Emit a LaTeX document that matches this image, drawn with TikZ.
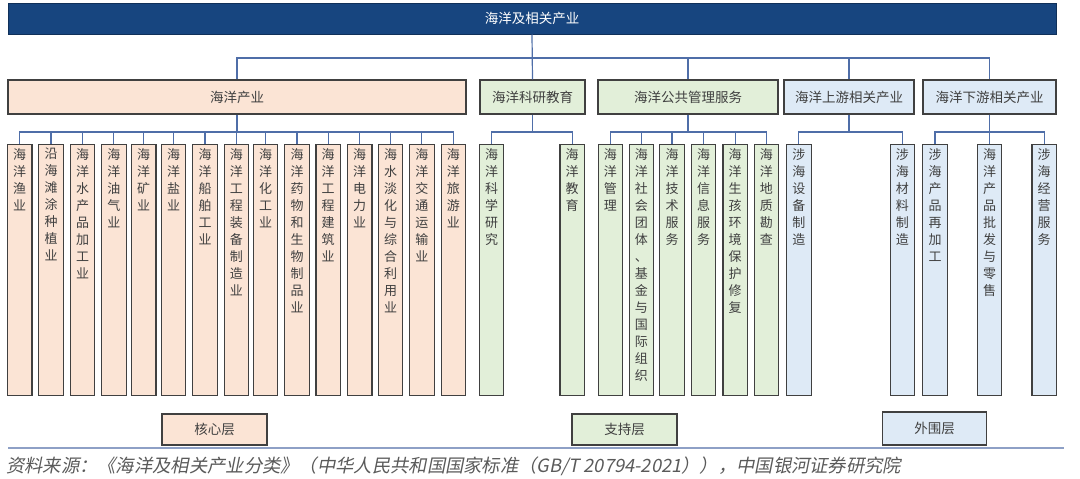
\documentclass[tikz,border=0pt]{standalone}
\usepackage{fontspec}
\setmainfont{Noto Sans CJK SC}
\newfontfamily\cjkit[FakeSlant=0.2]{Noto Sans CJK SC}
\usetikzlibrary{calc}

\definecolor{topfill}{HTML}{17457F}
\definecolor{corefill}{HTML}{FBE4D5}
\definecolor{suppfill}{HTML}{E2EFD9}
\definecolor{outerfill}{HTML}{DEEAF6}
\definecolor{boxline}{HTML}{404040}
\definecolor{linkblue}{HTML}{4F6EA8}
\definecolor{txtgray}{HTML}{404040}
\definecolor{sepblue}{HTML}{8EA0C6}
\definecolor{srcgray}{HTML}{5A5A5A}

% stack the characters of #1 one above the other
\makeatletter
\newcommand\vtext[1]{\edef\vtmp{#1}\def\vrun{\@tfor\ch:=}%
  \vbox{\baselineskip=17pt\expandafter\vrun\vtmp\do{\hbox{\ch}}}}
\makeatother

\begin{document}
\begin{tikzpicture}[x=1pt, y=-1pt,
    box/.style={draw=boxline, line width=1.1pt, inner sep=0pt, text=txtgray,
      font=\fontsize{13.5}{16}\selectfont},
    core/.style={box, fill=corefill},
    supp/.style={box, fill=suppfill},
    outer/.style={box, fill=outerfill},
    leaf/.style={minimum width=24.5pt, minimum height=251pt, anchor=north,
      label={[anchor=north, inner sep=0pt, yshift=-4pt, text=txtgray,
        font=\fontsize{13}{17}\selectfont]north:{\vtext{#1}}}},
    link/.style={draw=linkblue, line width=1.2pt}]

  \useasboundingbox (0,0) rectangle (1080,479);

  % top level
  \node[draw=topfill!70!black, fill=topfill, text=white, line width=1pt,
    minimum width=1048pt, minimum height=31pt, inner sep=0pt,
    font=\fontsize{13.5}{16}\selectfont] (root) at (532,18.5) {海洋及相关产业};

  % second level
  \node[core, minimum width=458pt, minimum height=34pt] (hy) at (237,97) {海洋产业};
  \node[supp, minimum width=105pt, minimum height=34pt] (ke) at (532.5,97) {海洋科研教育};
  \node[supp, minimum width=180pt, minimum height=34pt] (gg) at (688,97) {海洋公共管理服务};
  \node[outer, minimum width=130pt, minimum height=34pt] (sy) at (849,97) {海洋上游相关产业};
  \node[outer, minimum width=133pt, minimum height=34pt] (xy) at (989.5,97) {海洋下游相关产业};

  \coordinate (b1) at (0,58);  % first bus
  \coordinate (b2) at (0,132); % second bus

  \draw[link] (root.south) -- (ke.north);
  \draw[link] (hy.north) -- (hy.north |- b1) -- (xy.north |- b1) -- (xy.north);
  \draw[link] (gg.north) -- (gg.north |- b1);
  \draw[link] (sy.north) -- (sy.north |- b1);

  % third level
  \foreach \x/\t [count=\i] in {19.7/海洋渔业, 51/沿海滩涂种植业, 82.5/海洋水产品加工业,
      113.8/海洋油气业, 143.7/海洋矿业, 173.5/海洋盐业, 205/海洋船舶工业,
      236.3/海洋工程装备制造业, 265.5/海洋化工业, 297/海洋药物和生物制品业,
      328.2/海洋工程建筑业, 359.7/海洋电力业, 390.5/海水淡化与综合利用业,
      421.8/海洋交通运输业, 453.3/海洋旅游业}
    \node[core, leaf=\t] (core\i) at (\x,144) {};

  \foreach \x/\t [count=\i] in {491.5/海洋科学研究, 572.2/海洋教育}
    \node[supp, leaf=\t] (ke\i) at (\x,144) {};

  \foreach \x/\t [count=\i] in {610.3/海洋管理, 641.3/海洋社会团体、基金与国际组织,
      672/海洋技术服务, 703.5/海洋信息服务, 735.2/海洋生孩环境保护修复, 766.3/海洋地质勘查}
    \node[supp, leaf=\t] (gg\i) at (\x,144) {};

  \foreach \x/\t [count=\i] in {798.8/涉海设备制造, 902.3/涉海材料制造}
    \node[outer, leaf=\t] (sy\i) at (\x,144) {};

  \foreach \x/\t [count=\i] in {935/涉海产品再加工, 989.5/海洋产品批发与零售, 1044.2/涉海经营服务}
    \node[outer, leaf=\t] (xy\i) at (\x,144) {};

  % links down to the third level
  \draw[link] (hy.south) -- (hy.south |- b2);
  \draw[link] (core1.north) -- (core1.north |- b2) -- (core15.north |- b2) -- (core15.north);
  \foreach \i in {2,...,14}
    \draw[link] (core\i.north) -- (core\i.north |- b2);

  \draw[link] (ke.south) -- (ke.south |- b2);
  \draw[link] (ke1.north) -- (ke1.north |- b2) -- (ke2.north |- b2) -- (ke2.north);

  \draw[link] (gg.south) -- (gg.south |- b2);
  \draw[link] (gg1.north) -- (gg1.north |- b2) -- (gg6.north |- b2) -- (gg6.north);
  \foreach \i in {2,...,5}
    \draw[link] (gg\i.north) -- (gg\i.north |- b2);

  \draw[link] (sy.south) -- (sy.south |- b2);
  \draw[link] (sy1.north) -- (sy1.north |- b2) -- (sy2.north |- b2) -- (sy2.north);

  \draw[link] (xy.south) -- (xy.south |- b2);
  \draw[link] (xy1.north) -- (xy1.north |- b2) -- (xy3.north |- b2) -- (xy3.north);
  \draw[link] (xy2.north) -- (xy2.north |- b2);

  % layer labels
  \node[core, minimum width=105pt, minimum height=31pt] (hexin) at (214.5,429.5) {核心层};
  \node[supp, minimum width=105pt, minimum height=31pt] (zhichi) at (624.5,429.5) {支持层};
  \node[outer, minimum width=104pt, minimum height=33pt] (waiwei) at (934.5,428.5) {外围层};

  % source line
  \coordinate (s1) at (8,448);
  \coordinate (s2) at (1064,448);
  \draw[sepblue, line width=2pt] (s1) -- (s2);
  \node[anchor=west, inner sep=0pt, text=srcgray, font=\cjkit\fontsize{18.3}{21}\selectfont]
    (src) at (6,466.5) {资料来源：《海洋及相关产业分类》（中华人民共和国国家标准（GB/T 20794-2021）），中国银河证券研究院};

\end{tikzpicture}
\end{document}
